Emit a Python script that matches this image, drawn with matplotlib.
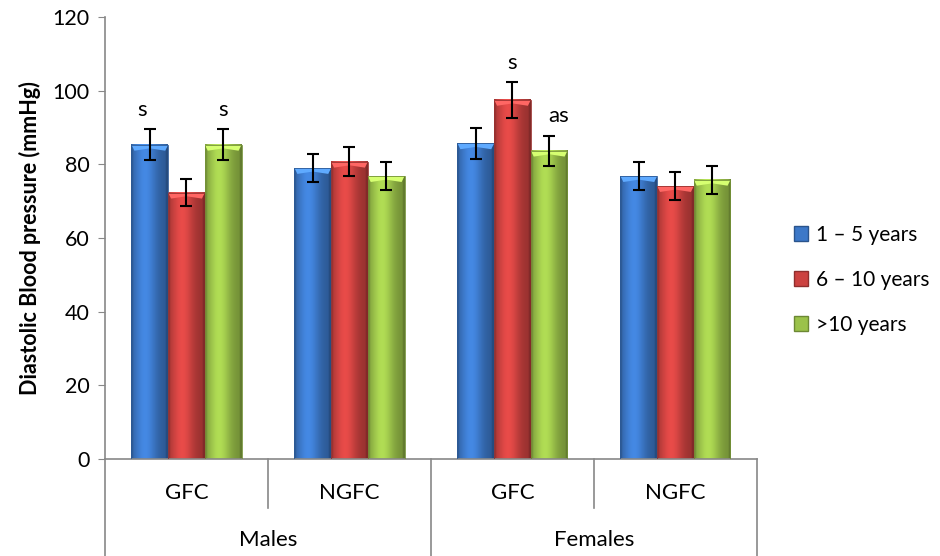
import numpy as np
import matplotlib.pyplot as plt
import matplotlib.transforms as mtransforms
from matplotlib.patches import Rectangle, Polygon
from matplotlib.colors import to_rgb

plt.rcParams['font.family'] = ['Lato', 'DejaVu Sans']

# Mean diastolic BP and error per subgroup
categories = ['GFC', 'NGFC', 'GFC', 'NGFC']
groups = ['Males', 'Females']
series = ['1 – 5 years', '6 – 10 years', '>10 years']
bp_1_5 = [85.3, 79.0, 85.7, 76.8]
bp_6_10 = [72.3, 80.7, 97.5, 74.1]
bp_gt10 = [85.3, 76.8, 83.7, 75.8]
err_1_5 = [4.2, 3.9, 4.2, 3.8]
err_6_10 = [3.6, 4.0, 4.9, 3.7]
err_gt10 = [4.2, 3.8, 4.1, 3.8]
# significance marks: (category index, series index, text)
sig_marks = [(0, 0, 's'), (0, 2, 's'), (2, 1, 's'), (2, 2, 'as')]

values = [bp_1_5, bp_6_10, bp_gt10]
errors = [err_1_5, err_6_10, err_gt10]
colors = ['#3C78C8', '#CC4240', '#9BC24A']

fig = plt.figure(figsize=(9.4, 5.56), dpi=100)
ax = fig.add_axes([0.1117, 0.1745, 0.6936, 0.7949])

x = np.arange(len(categories))
width = 0.225
offsets = [-width, 0, width]

# horizontal shading profile for the glossy bar look
prof = np.linspace(0, 1, 64)
shade = 0.74 + 0.40 * np.exp(-((prof - 0.38) / 0.32) ** 2)
shade[:4] *= 0.88
shade[-4:] *= 0.85


def shaded_bar(ax, xc, h, w, color):
    base = np.array(to_rgb(color))
    img = np.clip(base[None, :] * shade[:, None], 0, 1)[None, :, :]
    x0, x1 = xc - w / 2, xc + w / 2
    ax.imshow(img, extent=[x0, x1, 0, h], aspect='auto', zorder=2,
              interpolation='bilinear')
    # lighter bevel on top
    bev = 1.6
    light = np.clip(base * 1.25 + 0.08, 0, 1)
    ax.add_patch(Polygon([(x0, h), (x1, h), (x1 - w * 0.08, h - bev),
                          (xc, h - bev * 0.6), (x0 + w * 0.08, h - bev)],
                         closed=True, facecolor=light, edgecolor='none',
                         zorder=3))
    ax.add_patch(Rectangle((x0, 0), w, h, facecolor='none',
                           edgecolor=np.clip(base * 0.75, 0, 1), lw=0.6,
                           zorder=3))


for i, (vals, errs, col) in enumerate(zip(values, errors, colors)):
    for j in range(len(categories)):
        xc = x[j] + offsets[i]
        shaded_bar(ax, xc, vals[j], width, col)
    ax.errorbar(x + offsets[i], vals, yerr=errs, fmt='none', ecolor='black',
                elinewidth=1.5, capsize=4, capthick=1.5, zorder=4)

for j, i, txt in sig_marks:
    top = values[i][j] + errors[i][j]
    dx = -0.05 if (txt == 's' and i == 0) else 0
    dx = 0.06 if txt == 'as' else dx
    ax.text(x[j] + offsets[i] + dx, top + 2.5, txt, ha='center',
            va='bottom', fontsize=16)

ax.set_xlim(-0.5, 3.5)
ax.set_ylim(0, 120)
ax.set_yticks(np.arange(0, 121, 20))
ax.set_xticks([])
ax.tick_params(axis='y', labelsize=15.5, length=5, color='#888888', pad=6)
for s in ['top', 'right']:
    ax.spines[s].set_visible(False)
for s in ['left', 'bottom']:
    ax.spines[s].set_color('#888888')
    ax.spines[s].set_linewidth(1.2)
ax.set_ylabel('Diastolic Blood pressure (mmHg)', fontsize=15.5,
              fontweight='bold', labelpad=8)

# two-level category axis
trans = mtransforms.blended_transform_factory(ax.transData, ax.transAxes)
for xd in [0.5, 2.5]:
    ax.plot([xd, xd], [0, -0.111], color='#888888', lw=1.2,
            transform=trans, clip_on=False)
for xd in [-0.5, 1.5, 3.5]:
    ax.plot([xd, xd], [0, -0.22], color='#888888', lw=1.2,
            transform=trans, clip_on=False)
for j, cat in enumerate(categories):
    ax.text(x[j], -0.077, cat, transform=trans, ha='center', va='center',
            fontsize=16)
for g, name in enumerate(groups):
    ax.text(2 * g + 0.5, -0.183, name, transform=trans, ha='center',
            va='center', fontsize=16)

handles = [Rectangle((0, 0), 1, 1, facecolor=c,
                     edgecolor=np.clip(np.array(to_rgb(c)) * 0.7, 0, 1))
           for c in colors]
fig.legend(handles, series, loc='center left', bbox_to_anchor=(0.831, 0.497),
           frameon=False, fontsize=15, handlelength=0.7, handleheight=0.7,
           handletextpad=0.35, labelspacing=1.2, borderaxespad=0.2)

fig.savefig('out.png', dpi=100)
